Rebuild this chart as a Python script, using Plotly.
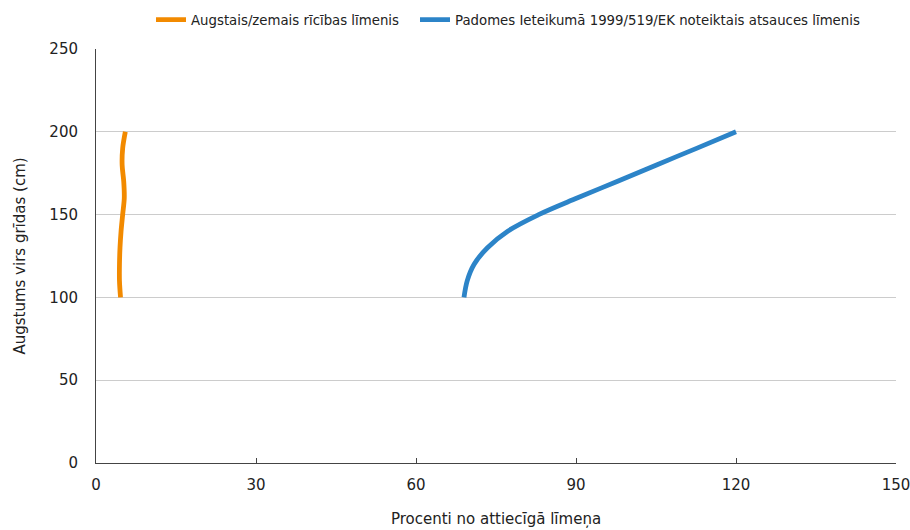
import plotly.graph_objects as go

# Height above floor (cm)
heights = [100, 110, 120, 130, 140, 150, 160, 170, 180, 190, 200]

# Percent of the respective level
action_level_pct = [4.6, 4.4, 4.4, 4.5, 4.7, 5.0, 5.3, 5.2, 4.9, 5.0, 5.5]
reference_level_pct = [69.0, 69.6, 70.9, 73.4, 77.2, 83.0, 90.2, 97.7, 105.1, 112.6, 120.0]

series_names = [
    "Augstais/zemais rīcības līmenis",
    "Padomes Ieteikumā 1999/519/EK noteiktais atsauces līmenis",
]
series_colors = ["#F28A00", "#2C84C8"]

x_ticks = [0, 30, 60, 90, 120, 150]
y_ticks = [0, 50, 100, 150, 200, 250]

font_family = "DejaVu Sans"
W, H = 910, 530

# one legend box per series, each placed at its own left edge (px)
legend_ids = ["legend", "legend2"]
legend_left_px = [151, 415]

fig = go.Figure()
for name, xs, color, lg in zip(series_names, [action_level_pct, reference_level_pct],
                               series_colors, legend_ids):
    fig.add_trace(go.Scatter(
        x=xs, y=heights, mode="lines", name=name, legend=lg,
        line=dict(color=color, width=4.8, shape="spline", smoothing=1.0),
    ))

legend_style = dict(
    orientation="h", xref="container", yref="container",
    xanchor="left", y=1 - 20 / H, yanchor="middle",
    font=dict(size=13.3, color="#222222"), bgcolor="rgba(0,0,0,0)",
)

fig.update_layout(
    width=W, height=H,
    margin=dict(l=96, r=14, t=49, b=67, autoexpand=False),
    paper_bgcolor="white", plot_bgcolor="white",
    font=dict(family=font_family, size=15, color="#222222"),
    showlegend=True,
    legend=dict(x=legend_left_px[0] / W, **legend_style),
    legend2=dict(x=legend_left_px[1] / W, **legend_style),
    xaxis=dict(
        range=[0, 150], tickvals=x_ticks, showgrid=False, zeroline=False,
        showline=True, linecolor="#444444", linewidth=1,
        ticks="inside", ticklen=5, tickcolor="#444444",
        ticklabelstandoff=8, automargin=False, ticklabeloverflow="allow",
        title=dict(text="Procenti no attiecīgā līmeņa", font=dict(size=15), standoff=20),
    ),
    yaxis=dict(
        range=[0, 250], tickvals=y_ticks, showgrid=True, gridcolor="#CCCCCC", gridwidth=1,
        zeroline=False, showline=True, linecolor="#444444", linewidth=1,
        ticks="", ticklabelstandoff=14, automargin=False,
        title=dict(text="Augstums virs grīdas (cm)", font=dict(size=15), standoff=20),
    ),
)

fig.write_html("out.html")
